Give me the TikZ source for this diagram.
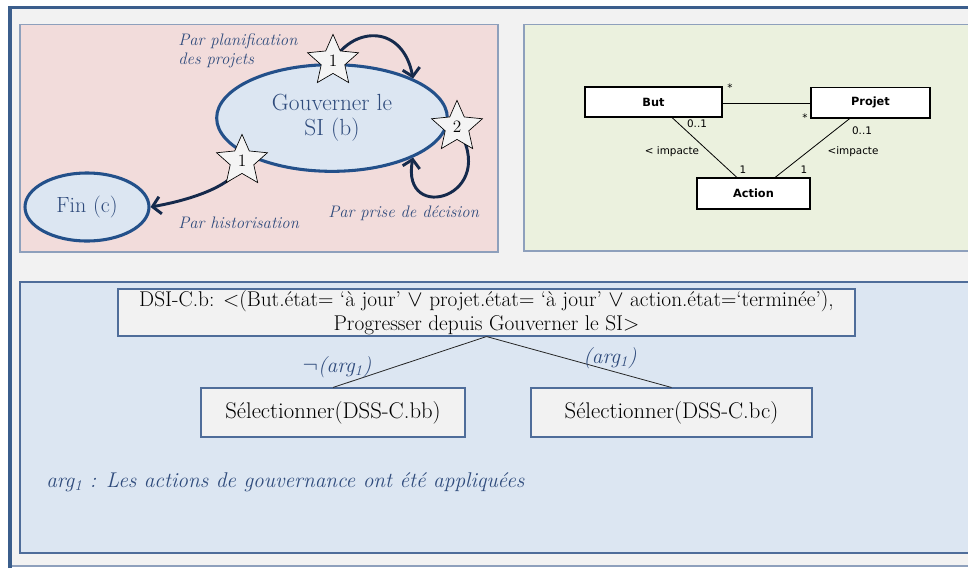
\documentclass[tikz,border=0pt]{standalone}
\usepackage{fontspec}
\newfontfamily\umlfont{DejaVu Sans}
\usetikzlibrary{shapes.geometric,arrows.meta,calc}
\definecolor{frameblue}{HTML}{3B5E8C}
\definecolor{framebg}{HTML}{F2F2F2}
\definecolor{pinkbg}{HTML}{F2DCDB}
\definecolor{greenbg}{HTML}{EBF1DE}
\definecolor{bluebg}{HTML}{DCE6F2}
\definecolor{panelborder}{HTML}{8EA0BC}
\definecolor{blueborder}{HTML}{4F6D9A}
\definecolor{ellblue}{HTML}{23508A}
\definecolor{txtblue}{HTML}{2F4B7C}
\definecolor{arrownavy}{HTML}{152A4C}
\definecolor{starfill}{HTML}{F4F4F4}
\pgfdeclarelayer{bg}
\pgfdeclarelayer{mid}
\pgfsetlayers{bg,mid,main}
\tikzset{
  panel/.style={line width=0.8pt},
  ell/.style={ellipse, draw=ellblue, line width=2.3pt, fill=bluebg, text=txtblue, inner sep=0pt, align=center},
  starnode/.style={star, star points=5, star point ratio=2.15, draw=black, line width=0.5pt, fill=starfill, inner sep=0pt, minimum size=40pt, font=\fontsize{13}{13}\selectfont},
  flow/.style={draw=arrownavy, line width=2.2pt, -{Straight Barb[length=6pt,width=13pt]}},
  lbl/.style={text=txtblue, font=\itshape\fontsize{12.5}{14.5}\selectfont, align=left, inner sep=0pt},
  umlbox/.style={draw=black, line width=1pt, fill=white, inner sep=0pt, font=\umlfont\bfseries\fontsize{8.5}{9}\selectfont},
  umllbl/.style={inner sep=0pt, font=\umlfont\fontsize{7.8}{8}\selectfont},
  umlline/.style={draw=black, line width=0.6pt},
  selbox/.style={draw=blueborder, line width=0.8pt, fill=framebg, inner sep=0pt},
  treeline/.style={draw=black!85, line width=0.6pt},
  condlbl/.style={text=txtblue, inner sep=0pt, font=\fontsize{16}{18}\selectfont}
}
\begin{document}
\begin{tikzpicture}[x=0.75pt,y=-0.75pt]
\useasboundingbox (0,0) rectangle (968,568);
% outer frame and panels
\begin{pgfonlayer}{bg}
\fill[white] (0,0) rectangle (968,568);
\fill[framebg] (10,7.5) rectangle (975,566);
\draw[panelborder, line width=0.8pt] (10,566) -- (975,566);
\draw[frameblue, line width=2.8pt] (10,568) -- (10,7.5) -- (975,7.5);
\draw[panel, draw=panelborder, fill=pinkbg] (20,24.5) rectangle (498,252);
\draw[panel, draw=panelborder, fill=greenbg] (524,24.5) rectangle (980,251);
\draw[panel, draw=blueborder, fill=bluebg] (20,282) rectangle (980,553);
\end{pgfonlayer}

% left panel: state diagram
\node[ell, minimum width=173pt, minimum height=80pt, font=\fontsize{17.5}{19}\selectfont] (gov) at (332,118) {Gouverner le\\SI (b)};
\node[ell, minimum width=93pt, minimum height=51pt, font=\fontsize{16.5}{18}\selectfont] (fin) at (87,207) {Fin (c)};
\node[starnode] (st1) at (333,61) {1};
\node[starnode] (st2) at (457,127) {2};
\node[starnode] (st3) at (242,161) {1};
\begin{pgfonlayer}{mid}
\draw[flow] (st1.center) .. controls +(22,-36) and +(-10,-53) .. (gov.26);
\draw[flow] (st2.center) .. controls +(45,70) and +(-13,68) .. (gov.-26);
\draw[flow] (st3.center) .. controls +(-4,24) and +(40,-7) .. (fin.east);
\end{pgfonlayer}
\node[lbl, anchor=west] (l1) at (178,51) {Par planification\\des projets};
\node[lbl, anchor=west] (l2) at (178,223) {Par historisation};
\node[lbl, anchor=west] (l3) at (328,213) {Par prise de décision};

% right panel: UML
\node[umlbox, minimum width=102.75pt, minimum height=22.5pt] (but) at (653.5,102) {But};
\node[umlbox, minimum width=89.25pt, minimum height=23pt] (projet) at (870.5,102.5) {Projet};
\node[umlbox, minimum width=84.75pt, minimum height=23.25pt] (action) at (753.5,193.5) {Action};
\draw[umlline] (but.east |- 0,103) -- (projet.west |- 0,103);
\draw[umlline] ($(but.south west)!0.635!(but.south east)$) -- ($(action.north west)!0.354!(action.north east)$);
\draw[umlline] ($(projet.south west)!0.328!(projet.south east)$) -- ($(action.north west)!0.69!(action.north east)$);
\node[umllbl] (m1) at (730,88) {*};
\node[umllbl] (m2) at (805,118) {*};
\node[umllbl] (m3) at (697,124) {0..1};
\node[umllbl] (m4) at (862,131) {0..1};
\node[umllbl] (m5) at (672,152) {< impacte};
\node[umllbl] (m6) at (853,152) {<impacte};
\node[umllbl] (m7) at (743,170) {1};
\node[umllbl] (m8) at (804,170) {1};

% bottom panel: decision
\node[selbox, minimum width=552.75pt, minimum height=35.25pt, align=center, font=\fontsize{16}{19}\selectfont] (top) at (486.5,312.5)
  {DSI-C.b: <(But.état= ‘à jour’ $\vee$ projet.état= ‘à jour’ $\vee$ action.état=‘terminée’),\\[-1pt]Progresser depuis Gouverner le SI>};
\node[selbox, minimum width=198pt, minimum height=36.75pt, font=\fontsize{17}{19}\selectfont] (sb) at (333,412.5) {Sélectionner(DSS-C.bb)};
\node[selbox, minimum width=210.75pt, minimum height=36.75pt, font=\fontsize{17}{19}\selectfont] (sc) at (671.5,412.5) {Sélectionner(DSS-C.bc)};
\draw[treeline] (top.south) -- (sb.north);
\draw[treeline] (top.south) -- (sc.north);
\node[condlbl] (c1) at (337,367) {$\neg$\textit{(arg\textsubscript{1})}};
\node[condlbl] (c2) at (610,358) {\textit{(arg\textsubscript{1})}};
\node[condlbl, anchor=west] (c3) at (46,482) {\textit{arg\textsubscript{1} : Les actions de gouvernance ont été appliquées}};
\end{tikzpicture}
\end{document}
